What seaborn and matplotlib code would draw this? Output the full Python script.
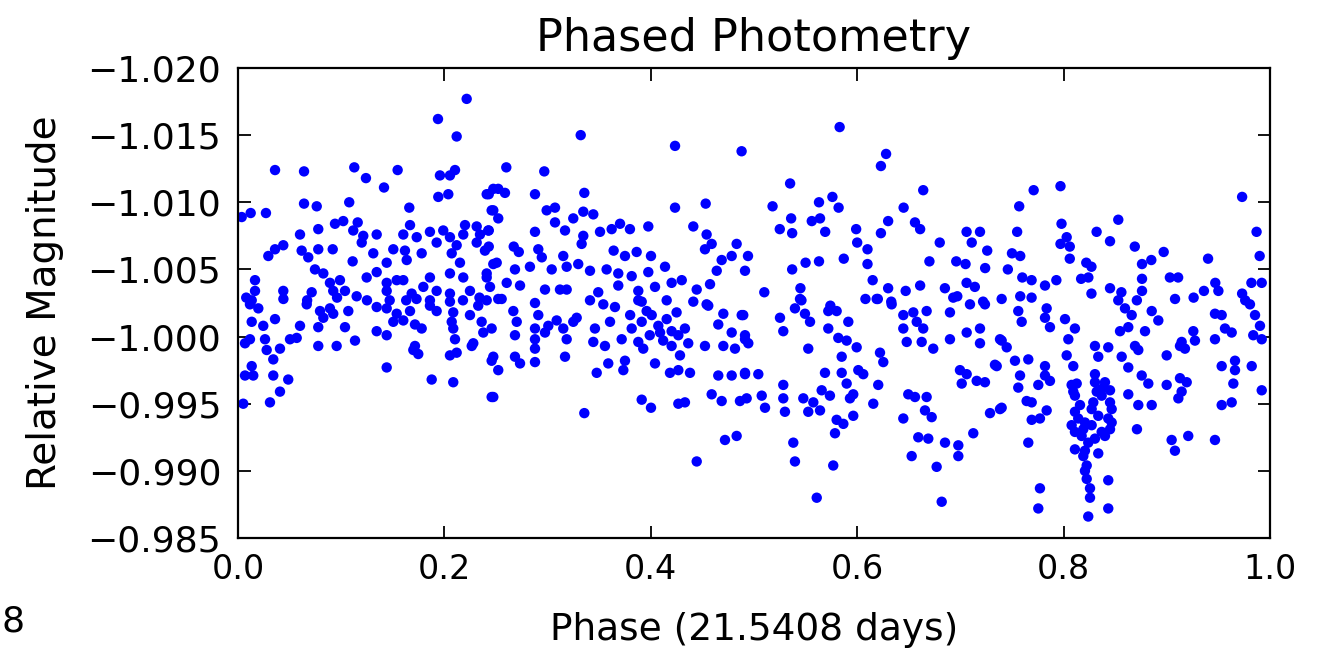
import matplotlib
matplotlib.use("Agg")
import matplotlib.pyplot as plt
import pandas as pd
import seaborn as sns
from matplotlib.ticker import FuncFormatter, FixedLocator

# ---- data: (phase, relative magnitude) pairs ----
seg_a = [
    (0.2216, -1.0177), (0.1938, -1.0162), (0.2119, -1.0149), (0.0359, -1.0124), (0.0640, -1.0123),
    (0.1127, -1.0126), (0.1240, -1.0118), (0.1415, -1.0111), (0.1547, -1.0124), (0.1957, -1.0120),
    (0.2054, -1.0120), (0.2103, -1.0124), (0.1941, -1.0104), (0.2038, -1.0106), (0.0036, -1.0089),
    (0.0123, -1.0092), (0.0271, -1.0092), (0.0640, -1.0099), (0.0763, -1.0097), (0.1078, -1.0100),
    (0.1660, -1.0096), (0.2410, -1.0106), (0.2474, -1.0110), (0.0940, -1.0084), (0.1020, -1.0086),
    (0.1160, -1.0085), (0.1667, -1.0083), (0.2200, -1.0083), (0.2313, -1.0082), (0.2458, -1.0094),
    (0.0601, -1.0076), (0.0778, -1.0080), (0.1117, -1.0079), (0.1214, -1.0075), (0.1344, -1.0076),
    (0.1199, -1.0070), (0.1602, -1.0076), (0.1732, -1.0074), (0.1860, -1.0078), (0.1989, -1.0079),
    (0.2054, -1.0074), (0.2183, -1.0076), (0.2345, -1.0076), (0.2425, -1.0079), (0.0294, -1.0060),
    (0.0359, -1.0065), (0.0439, -1.0068), (0.0617, -1.0064), (0.0778, -1.0065), (0.0918, -1.0065),
    (0.0681, -1.0059), (0.1111, -1.0056), (0.1311, -1.0062), (0.1441, -1.0055), (0.1505, -1.0065),
    (0.1618, -1.0064), (0.1780, -1.0062), (0.1635, -1.0057), (0.1925, -1.0070), (0.2071, -1.0062),
    (0.2119, -1.0068), (0.2151, -1.0055), (0.2313, -1.0070), (0.2393, -1.0064), (0.2474, -1.0054),
    (0.0165, -1.0042), (0.0165, -1.0034), (0.0133, -1.0027), (0.0439, -1.0034), (0.0746, -1.0050),
    (0.0827, -1.0047), (0.0891, -1.0040), (0.0988, -1.0042), (0.0923, -1.0034), (0.1037, -1.0034),
    (0.0714, -1.0033), (0.1247, -1.0044), (0.1344, -1.0048), (0.1441, -1.0040), (0.1538, -1.0042),
    (0.1602, -1.0042), (0.1441, -1.0034), (0.1683, -1.0032), (0.1796, -1.0037), (0.1860, -1.0044),
    (0.1925, -1.0034), (0.2054, -1.0047), (0.2183, -1.0044), (0.2248, -1.0034), (0.2410, -1.0047),
    (0.2442, -1.0037), (0.2054, -1.0032), (0.0670, -1.0027), (0.1250, -1.0027), (0.1470, -1.0027),
    (0.1630, -1.0027), (0.1860, -1.0027), (0.2180, -1.0027), (0.2410, -1.0027),
]

seg_b = [
    (0.0080, -1.0029), (0.0440, -1.0028), (0.0960, -1.0029), (0.1150, -1.0030), (0.1730, -1.0028),
    (0.2340, -1.0029), (0.0116, -1.0024), (0.0197, -1.0021), (0.0666, -1.0024), (0.0795, -1.0019),
    (0.0891, -1.0021), (0.0827, -1.0014), (0.0778, -1.0007), (0.0923, -1.0017), (0.1069, -1.0019),
    (0.1037, -1.0007), (0.1344, -1.0022), (0.1441, -1.0021), (0.1538, -1.0017), (0.1602, -1.0012),
    (0.1505, -1.0011), (0.1667, -1.0019), (0.1715, -1.0009), (0.1780, -1.0006), (0.1860, -1.0023),
    (0.1925, -1.0019), (0.2054, -1.0026), (0.2086, -1.0018), (0.2071, -1.0011), (0.2086, -1.0006),
    (0.2103, -0.9998), (0.2248, -1.0016), (0.2328, -1.0023), (0.2361, -1.0011), (0.2377, -1.0003),
    (0.2280, -0.9995), (0.0133, -1.0011), (0.0245, -1.0008), (0.0359, -1.0013), (0.0068, -0.9995),
    (0.0116, -0.9998), (0.0262, -0.9998), (0.0278, -0.9990), (0.0342, -0.9983), (0.0407, -0.9991),
    (0.0504, -0.9998), (0.0569, -0.9999), (0.0601, -1.0008), (0.0778, -0.9993), (0.0956, -0.9993),
    (0.1134, -0.9997), (0.1344, -1.0004), (0.1441, -1.0001), (0.1715, -0.9993), (0.1747, -0.9987),
    (0.1699, -0.9990), (0.2054, -0.9986), (0.2119, -0.9988), (0.2265, -0.9993), (0.0133, -0.9978),
    (0.0148, -0.9971), (0.0068, -0.9971), (0.0342, -0.9971), (0.0487, -0.9968), (0.0407, -0.9959),
    (0.0310, -0.9951), (0.0051, -0.9950), (0.1441, -0.9977), (0.1877, -0.9968), (0.2086, -0.9966),
    (0.2458, -0.9982), (0.2458, -0.9955),
]

seg_c = [
    (0.3321, -1.0150), (0.4235, -1.0142), (0.4880, -1.0138), (0.2600, -1.0126), (0.2968, -1.0123),
    (0.2430, -1.0106), (0.2522, -1.0110), (0.2587, -1.0107), (0.2878, -1.0106), (0.3356, -1.0107),
    (0.4235, -1.0096), (0.4532, -1.0099), (0.2474, -1.0094), (0.2522, -1.0088), (0.2430, -1.0079),
    (0.2991, -1.0094), (0.3072, -1.0096), (0.3072, -1.0085), (0.3169, -1.0079), (0.3249, -1.0088),
    (0.3346, -1.0093), (0.3443, -1.0091), (0.2878, -1.0078), (0.3346, -1.0075), (0.3330, -1.0069),
    (0.3508, -1.0078), (0.3621, -1.0080), (0.3702, -1.0084), (0.3798, -1.0080), (0.3976, -1.0082),
    (0.4412, -1.0082), (0.4541, -1.0076), (0.4590, -1.0069), (0.4525, -1.0065), (0.4832, -1.0069),
    (0.4784, -1.0060), (0.4687, -1.0057), (0.4942, -1.0060), (0.4639, -1.0049), (0.4913, -1.0049),
    (0.2430, -1.0067), (0.2672, -1.0067), (0.2721, -1.0063), (0.2910, -1.0065), (0.2944, -1.0059),
    (0.3152, -1.0060), (0.3640, -1.0064), (0.3750, -1.0060), (0.3863, -1.0063), (0.4002, -1.0060),
    (0.2507, -1.0055), (0.2684, -1.0050), (0.2829, -1.0052), (0.3040, -1.0050), (0.3185, -1.0052),
    (0.3297, -1.0054), (0.3411, -1.0049), (0.3572, -1.0050), (0.3685, -1.0047), (0.3815, -1.0045),
    (0.3976, -1.0048), (0.4138, -1.0052), (0.2410, -1.0044), (0.2604, -1.0040), (0.2733, -1.0038),
    (0.2975, -1.0035), (0.3120, -1.0035), (0.3185, -1.0035), (0.3491, -1.0033), (0.3685, -1.0038),
    (0.3879, -1.0034), (0.4041, -1.0037), (0.4202, -1.0040), (0.4300, -1.0042), (0.4445, -1.0035),
    (0.4574, -1.0039), (0.2555, -1.0028), (0.2878, -1.0025), (0.3411, -1.0027), (0.3912, -1.0026),
    (0.4154, -1.0027), (0.4412, -1.0026), (0.4541, -1.0024),
]

seg_d = [
    (0.2522, -1.0028), (0.3540, -1.0024), (0.3653, -1.0022), (0.3879, -1.0027), (0.4557, -1.0023),
    (0.4703, -1.0017), (0.4881, -1.0016), (0.2668, -1.0019), (0.2701, -1.0011), (0.2684, -1.0001),
    (0.2458, -1.0006), (0.2910, -1.0016), (0.2878, -1.0006), (0.2878, -0.9998), (0.2975, -1.0003),
    (0.3007, -1.0008), (0.3088, -1.0012), (0.3152, -1.0006), (0.3185, -0.9998), (0.3249, -1.0011),
    (0.3282, -1.0014), (0.2474, -0.9985), (0.2522, -0.9975), (0.2684, -0.9985), (0.2733, -0.9980),
    (0.2878, -0.9991), (0.2878, -0.9981), (0.3169, -0.9985), (0.3459, -1.0006), (0.3443, -0.9996),
    (0.3556, -0.9993), (0.3605, -1.0011), (0.3718, -0.9998), (0.3815, -1.0006), (0.3879, -0.9996),
    (0.3927, -0.9991), (0.3912, -1.0011), (0.4009, -1.0016), (0.4073, -1.0008), (0.4154, -1.0013),
    (0.4202, -1.0004), (0.4267, -1.0001), (0.4331, -1.0006), (0.4363, -0.9995), (0.4202, -0.9993),
    (0.4283, -0.9986), (0.3476, -0.9973), (0.3588, -0.9980), (0.3750, -0.9982), (0.3734, -0.9975),
    (0.4041, -0.9980), (0.4186, -0.9973), (0.4267, -0.9975), (0.4380, -0.9973), (0.4525, -0.9993),
    (0.4703, -0.9993), (0.4816, -0.9991), (0.4913, -0.9998), (0.4784, -1.0003), (0.4654, -1.0009),
    (0.4654, -0.9971), (0.4784, -0.9971), (0.4913, -0.9973), (0.2474, -0.9955), (0.3356, -0.9943),
    (0.3912, -0.9953), (0.4002, -0.9947), (0.4267, -0.9950), (0.4331, -0.9951), (0.4590, -0.9957),
    (0.4687, -0.9952), (0.4864, -0.9952), (0.4929, -0.9954), (0.4719, -0.9923), (0.4832, -0.9926),
    (0.4445, -0.9907), (0.3960, -1.0019), (0.4090, -1.0003), (0.4120, -0.9997), (0.3990, -1.0001),
    (0.4250, -1.0018), (0.3800, -1.0016),
]

seg_e = [
    (0.5830, -1.0156), (0.6280, -1.0136), (0.6230, -1.0127), (0.5350, -1.0114), (0.6640, -1.0109),
    (0.5180, -1.0097), (0.5630, -1.0100), (0.5760, -1.0104), (0.5820, -1.0096), (0.6450, -1.0096),
    (0.5360, -1.0088), (0.5250, -1.0080), (0.5370, -1.0077), (0.5560, -1.0086), (0.5640, -1.0088),
    (0.5690, -1.0078), (0.5990, -1.0080), (0.6300, -1.0086), (0.6230, -1.0077), (0.6560, -1.0085),
    (0.6610, -1.0080), (0.7060, -1.0078), (0.7190, -1.0078), (0.7110, -1.0070), (0.6800, -1.0070),
    (0.7260, -1.0064), (0.6000, -1.0070), (0.6100, -1.0065), (0.6100, -1.0054), (0.5370, -1.0050),
    (0.5500, -1.0055), (0.5630, -1.0056), (0.5870, -1.0058), (0.6700, -1.0056), (0.6960, -1.0056),
    (0.7050, -1.0054), (0.7240, -1.0051), (0.6150, -1.0042), (0.6300, -1.0036), (0.6470, -1.0034),
    (0.6610, -1.0038), (0.6850, -1.0036), (0.7060, -1.0040), (0.7140, -1.0037), (0.5100, -1.0033),
    (0.5450, -1.0036), (0.5460, -1.0027), (0.5740, -1.0023), (0.6080, -1.0028), (0.6200, -1.0028),
    (0.6330, -1.0026), (0.6970, -1.0030), (0.7220, -1.0026), (0.7400, -1.0028),
]

seg_f = [
    (0.5446, -1.0028), (0.6189, -1.0028), (0.6334, -1.0024), (0.6931, -1.0029), (0.7093, -1.0024),
    (0.7238, -1.0024), (0.4896, -1.0016), (0.5252, -1.0014), (0.5284, -1.0004), (0.5397, -1.0021),
    (0.5494, -1.0017), (0.5543, -1.0011), (0.5720, -1.0019), (0.5801, -1.0019), (0.5720, -1.0006),
    (0.5914, -1.0011), (0.4913, -1.0001), (0.4945, -0.9995), (0.5526, -0.9991), (0.5817, -0.9999),
    (0.5898, -0.9997), (0.5995, -0.9992), (0.6447, -1.0016), (0.6544, -1.0018), (0.6673, -1.0019),
    (0.6577, -1.0011), (0.6447, -1.0006), (0.6480, -0.9996), (0.6640, -1.0006), (0.6625, -0.9996),
    (0.6737, -0.9991), (0.6899, -1.0018), (0.6899, -0.9998), (0.7061, -1.0003), (0.7190, -1.0006),
    (0.7190, -0.9995), (0.7384, -0.9998), (0.6221, -0.9988), (0.6253, -0.9981), (0.5850, -0.9985),
    (0.5688, -0.9973), (0.5850, -0.9973), (0.6011, -0.9975), (0.6059, -0.9972), (0.4913, -0.9972),
    (0.5042, -0.9972), (0.5284, -0.9964), (0.5284, -0.9954), (0.5075, -0.9956), (0.5107, -0.9947),
    (0.5300, -0.9944), (0.5478, -0.9954), (0.5575, -0.9951), (0.5640, -0.9945), (0.5526, -0.9944),
    (0.5656, -0.9960), (0.5736, -0.9956), (0.5898, -0.9965), (0.5962, -0.9957), (0.5930, -0.9954),
    (0.6204, -0.9964), (0.6156, -0.9950), (0.5801, -0.9938), (0.5866, -0.9935), (0.5962, -0.9941),
    (0.5785, -0.9928), (0.5381, -0.9921), (0.5397, -0.9907), (0.5768, -0.9904), (0.5608, -0.9880),
    (0.6996, -0.9975), (0.7061, -0.9972), (0.7013, -0.9965), (0.7158, -0.9967), (0.7238, -0.9966),
    (0.7335, -0.9979), (0.6495, -0.9957), (0.6560, -0.9955), (0.6673, -0.9955), (0.6657, -0.9945),
    (0.6722, -0.9940), (0.6447, -0.9939), (0.7287, -0.9943), (0.7400, -0.9947), (0.6592, -0.9925),
    (0.6689, -0.9924), (0.6528, -0.9911), (0.6851, -0.9921), (0.6980, -0.9919), (0.6980, -0.9911),
    (0.7125, -0.9928), (0.6770, -0.9903), (0.6819, -0.9877),
]

seg_g = [
    (0.7970, -1.0112), (0.7710, -1.0109), (0.9730, -1.0104), (0.7570, -1.0097), (0.7980, -1.0084),
    (0.8530, -1.0087), (0.7550, -1.0078), (0.8320, -1.0078), (0.8450, -1.0071), (0.9870, -1.0078),
    (0.8030, -1.0074), (0.7970, -1.0069), (0.8060, -1.0067), (0.8060, -1.0058), (0.8690, -1.0067),
    (0.8970, -1.0063), (0.7500, -1.0062), (0.7580, -1.0060), (0.7460, -1.0050), (0.8760, -1.0054),
    (0.8850, -1.0057), (0.9400, -1.0058), (0.9900, -1.0060), (0.8220, -1.0055), (0.8270, -1.0052),
    (0.8170, -1.0043), (0.8240, -1.0044), (0.7600, -1.0044), (0.7690, -1.0042), (0.7820, -1.0038),
    (0.7930, -1.0042), (0.8760, -1.0043), (0.9030, -1.0044), (0.9110, -1.0044), (0.9470, -1.0040),
    (0.9500, -1.0034), (0.9820, -1.0040), (0.9920, -1.0040), (0.7580, -1.0030), (0.7690, -1.0029),
    (0.8270, -1.0032), (0.8450, -1.0036), (0.8560, -1.0033), (0.8760, -1.0034), (0.8710, -1.0027),
    (0.9080, -1.0028), (0.9260, -1.0029), (0.9360, -1.0034), (0.9730, -1.0032), (0.9760, -1.0027),
]

seg_h = [
    (0.8530, -1.0027), (0.9806, -1.0024), (0.7561, -1.0019), (0.7594, -1.0011), (0.7836, -1.0021),
    (0.7820, -1.0014), (0.7868, -1.0007), (0.8014, -1.0013), (0.8110, -1.0006), (0.8046, -0.9998),
    (0.8595, -1.0021), (0.8660, -1.0016), (0.8547, -1.0004), (0.8627, -1.0007), (0.8789, -1.0004),
    (0.8854, -1.0019), (0.8918, -1.0012), (0.9467, -1.0017), (0.9532, -1.0016), (0.9564, -1.0006),
    (0.9629, -1.0003), (0.9467, -0.9998), (0.9257, -1.0004), (0.9144, -0.9996), (0.9273, -0.9997),
    (0.9855, -1.0016), (0.9903, -1.0008), (0.9920, -0.9998), (0.9838, -1.0001), (0.7400, -0.9997),
    (0.7449, -0.9992), (0.8304, -0.9993), (0.8433, -0.9992), (0.8563, -0.9985), (0.8336, -0.9985),
    (0.8692, -0.9993), (0.8724, -0.9990), (0.8999, -0.9986), (0.9128, -0.9993), (0.9176, -0.9991),
    (0.7352, -0.9978), (0.7529, -0.9982), (0.7658, -0.9983), (0.7820, -0.9978), (0.8030, -0.9986),
    (0.8094, -0.9978), (0.8627, -0.9977), (0.9532, -0.9978), (0.9661, -0.9982), (0.9661, -0.9975),
    (0.9823, -0.9978), (0.7578, -0.9971), (0.7561, -0.9962), (0.7820, -0.9971), (0.7868, -0.9967),
    (0.7755, -0.9964), (0.8304, -0.9972), (0.8127, -0.9965), (0.8401, -0.9966), (0.8094, -0.9959),
    (0.8321, -0.9959), (0.8450, -0.9960), (0.8757, -0.9971), (0.8821, -0.9965), (0.8999, -0.9964),
    (0.9128, -0.9969), (0.9193, -0.9966), (0.9144, -0.9959), (0.9112, -0.9954), (0.8627, -0.9957),
    (0.8724, -0.9949), (0.8854, -0.9949), (0.9645, -0.9965), (0.9920, -0.9960), (0.9629, -0.9951),
    (0.9532, -0.9949), (0.7384, -0.9946), (0.7642, -0.9952), (0.7691, -0.9951), (0.7836, -0.9945),
    (0.7771, -0.9939), (0.7691, -0.9938), (0.8110, -0.9956), (0.8159, -0.9949), (0.8288, -0.9951),
    (0.8369, -0.9956), (0.8450, -0.9951), (0.8110, -0.9944), (0.8142, -0.9939), (0.8207, -0.9936),
    (0.8272, -0.9946), (0.8336, -0.9941), (0.8433, -0.9939), (0.8450, -0.9931), (0.8369, -0.9929),
    (0.8110, -0.9929), (0.8175, -0.9926), (0.8272, -0.9934), (0.8239, -0.9921), (0.8110, -0.9916),
    (0.8207, -0.9915), (0.8336, -0.9913), (0.8304, -0.9924), (0.8224, -0.9904), (0.8224, -0.9894),
    (0.8256, -0.9887), (0.8256, -0.9880), (0.8433, -0.9893), (0.8239, -0.9866), (0.8433, -0.9872),
    (0.7771, -0.9887), (0.7755, -0.9872), (0.7658, -0.9921), (0.8711, -0.9931), (0.9047, -0.9923),
    (0.9079, -0.9915), (0.9208, -0.9926), (0.9467, -0.9923), (0.8078, -0.9964), (0.8369, -0.9961),
    (0.8466, -0.9946), (0.8466, -0.9936), (0.8078, -0.9934), (0.8191, -0.9931), (0.8401, -0.9926),
    (0.8191, -0.9911), (0.8207, -0.9900), (0.8304, -0.9966),
]

x_ticks = [0.0, 0.2, 0.4, 0.6, 0.8, 1.0]
y_ticks = [-1.020, -1.015, -1.010, -1.005, -1.000, -0.995, -0.990, -0.985]
title_text = "Phased Photometry"
x_label = "Phase (21.5408 days)"
y_label = "Relative Magnitude"
stray_text = "8"

segments = [seg_a, seg_b, seg_c, seg_d, seg_e, seg_f, seg_g, seg_h]
df = pd.DataFrame(
    [pt for seg in segments for pt in seg], columns=["phase", "magnitude"]
)

sns.set_theme(style="white")
plt.rcParams["font.family"] = ["DejaVu Sans"]
plt.rcParams["axes.unicode_minus"] = True

fig = plt.figure(figsize=(13.17, 6.5), dpi=100)
ax = fig.add_axes([0.1807, 0.1723, 0.7836, 0.7231])

sns.scatterplot(
    data=df, x="phase", y="magnitude", color="#0000ff", s=56,
    linewidth=0, edgecolor="none", ax=ax, legend=False,
)

ax.set_xlim(0.0, 1.0)
ax.set_ylim(-0.985, -1.020)
ax.xaxis.set_major_locator(FixedLocator(x_ticks))
ax.yaxis.set_major_locator(FixedLocator(y_ticks))
ax.xaxis.set_major_formatter(FuncFormatter(lambda v, p: f"{v:.1f}"))
ax.yaxis.set_major_formatter(
    FuncFormatter(lambda v, p: f"{v:.3f}".replace("-", "\u2212"))
)

ax.tick_params(axis="both", which="major", direction="in", length=9, width=1.3,
               color="black", top=True, right=True, bottom=True, left=True)
ax.tick_params(axis="x", labelsize=24, pad=11, labelcolor="black")
ax.tick_params(axis="y", labelsize=26, pad=12, labelcolor="black")

for sp in ax.spines.values():
    sp.set_visible(True)
    sp.set_color("black")
    sp.set_linewidth(1.6)

ax.set_title(title_text, fontsize=32, color="black", pad=12)
ax.set_xlabel(x_label, fontsize=27, color="black")
ax.set_ylabel(y_label, fontsize=28, color="black")
ax.xaxis.set_label_coords(0.5, -0.196)
ax.xaxis.label.set_va("center")
ax.yaxis.set_label_coords(-0.187, 0.5)
ax.yaxis.label.set_va("center")

fig.text(0.001, 1 - 622 / 650, stray_text, fontsize=26, color="black",
         ha="left", va="center")

fig.savefig("out.png", dpi=100, facecolor="white")
